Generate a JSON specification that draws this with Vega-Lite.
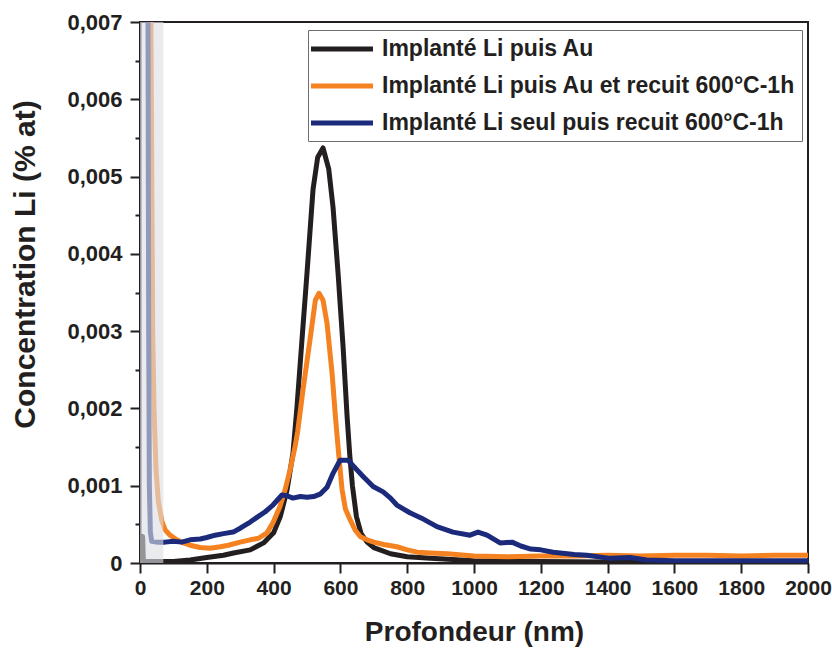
{
  "$schema": "https://vega.github.io/schema/vega-lite/v6.json",
  "autosize": "none",
  "width": 668,
  "height": 541,
  "padding": {"left": 140, "top": 22, "right": 24, "bottom": 85},
  "background": "white",
  "config": {
    "view": {"stroke": "#231f20", "strokeWidth": 2},
    "font": "Liberation Sans",
    "axis": {
      "domainColor": "#231f20", "domainWidth": 2,
      "tickColor": "#231f20", "tickWidth": 2,
      "labelFont": "Liberation Sans", "labelFontWeight": "bold", "labelColor": "#231f20",
      "titleFont": "Liberation Sans", "titleFontWeight": "bold", "titleColor": "#231f20",
      "grid": false, "labelOverlap": false, "labelFlush": false, "zindex": 0
    }
  },
  "data": {"values": [
    {"s": "Implanté Li puis Au", "x": 0, "y": 0.00035},
    {"s": "Implanté Li puis Au", "x": 8, "y": 0.00034},
    {"s": "Implanté Li puis Au", "x": 10, "y": 0.00004},
    {"s": "Implanté Li puis Au", "x": 15, "y": 0.00002},
    {"s": "Implanté Li puis Au", "x": 50, "y": 0.00002},
    {"s": "Implanté Li puis Au", "x": 100, "y": 0.00002},
    {"s": "Implanté Li puis Au", "x": 150, "y": 0.00004},
    {"s": "Implanté Li puis Au", "x": 200, "y": 0.00007},
    {"s": "Implanté Li puis Au", "x": 250, "y": 0.0001},
    {"s": "Implanté Li puis Au", "x": 280, "y": 0.00013},
    {"s": "Implanté Li puis Au", "x": 330, "y": 0.00017},
    {"s": "Implanté Li puis Au", "x": 370, "y": 0.00026},
    {"s": "Implanté Li puis Au", "x": 400, "y": 0.00039},
    {"s": "Implanté Li puis Au", "x": 420, "y": 0.0006},
    {"s": "Implanté Li puis Au", "x": 440, "y": 0.00094},
    {"s": "Implanté Li puis Au", "x": 458, "y": 0.00142},
    {"s": "Implanté Li puis Au", "x": 470, "y": 0.00202},
    {"s": "Implanté Li puis Au", "x": 485, "y": 0.00289},
    {"s": "Implanté Li puis Au", "x": 500, "y": 0.00375},
    {"s": "Implanté Li puis Au", "x": 518, "y": 0.00483},
    {"s": "Implanté Li puis Au", "x": 532, "y": 0.00525},
    {"s": "Implanté Li puis Au", "x": 548, "y": 0.00537},
    {"s": "Implanté Li puis Au", "x": 565, "y": 0.0051},
    {"s": "Implanté Li puis Au", "x": 578, "y": 0.0046},
    {"s": "Implanté Li puis Au", "x": 593, "y": 0.00375},
    {"s": "Implanté Li puis Au", "x": 608, "y": 0.0028},
    {"s": "Implanté Li puis Au", "x": 620, "y": 0.0019},
    {"s": "Implanté Li puis Au", "x": 628, "y": 0.0014},
    {"s": "Implanté Li puis Au", "x": 636, "y": 0.001},
    {"s": "Implanté Li puis Au", "x": 648, "y": 0.0006},
    {"s": "Implanté Li puis Au", "x": 662, "y": 0.00038},
    {"s": "Implanté Li puis Au", "x": 680, "y": 0.00027},
    {"s": "Implanté Li puis Au", "x": 700, "y": 0.0002},
    {"s": "Implanté Li puis Au", "x": 750, "y": 0.00012},
    {"s": "Implanté Li puis Au", "x": 800, "y": 0.00008},
    {"s": "Implanté Li puis Au", "x": 870, "y": 0.00006},
    {"s": "Implanté Li puis Au", "x": 1000, "y": 0.00003},
    {"s": "Implanté Li puis Au", "x": 1200, "y": 0.00002},
    {"s": "Implanté Li puis Au", "x": 1500, "y": 0.00001},
    {"s": "Implanté Li puis Au", "x": 2000, "y": 0.00001},

    {"s": "Implanté Li puis Au et recuit 600°C-1h", "x": 30, "y": 0.009},
    {"s": "Implanté Li puis Au et recuit 600°C-1h", "x": 34, "y": 0.006},
    {"s": "Implanté Li puis Au et recuit 600°C-1h", "x": 38, "y": 0.003},
    {"s": "Implanté Li puis Au et recuit 600°C-1h", "x": 42, "y": 0.002},
    {"s": "Implanté Li puis Au et recuit 600°C-1h", "x": 48, "y": 0.0012},
    {"s": "Implanté Li puis Au et recuit 600°C-1h", "x": 55, "y": 0.0008},
    {"s": "Implanté Li puis Au et recuit 600°C-1h", "x": 65, "y": 0.00055},
    {"s": "Implanté Li puis Au et recuit 600°C-1h", "x": 75, "y": 0.00043},
    {"s": "Implanté Li puis Au et recuit 600°C-1h", "x": 90, "y": 0.00036},
    {"s": "Implanté Li puis Au et recuit 600°C-1h", "x": 110, "y": 0.0003},
    {"s": "Implanté Li puis Au et recuit 600°C-1h", "x": 130, "y": 0.00026},
    {"s": "Implanté Li puis Au et recuit 600°C-1h", "x": 150, "y": 0.00023},
    {"s": "Implanté Li puis Au et recuit 600°C-1h", "x": 180, "y": 0.0002},
    {"s": "Implanté Li puis Au et recuit 600°C-1h", "x": 210, "y": 0.00019},
    {"s": "Implanté Li puis Au et recuit 600°C-1h", "x": 240, "y": 0.00021},
    {"s": "Implanté Li puis Au et recuit 600°C-1h", "x": 265, "y": 0.00023},
    {"s": "Implanté Li puis Au et recuit 600°C-1h", "x": 300, "y": 0.00027},
    {"s": "Implanté Li puis Au et recuit 600°C-1h", "x": 330, "y": 0.0003},
    {"s": "Implanté Li puis Au et recuit 600°C-1h", "x": 355, "y": 0.00032},
    {"s": "Implanté Li puis Au et recuit 600°C-1h", "x": 380, "y": 0.00039},
    {"s": "Implanté Li puis Au et recuit 600°C-1h", "x": 398, "y": 0.00052},
    {"s": "Implanté Li puis Au et recuit 600°C-1h", "x": 419, "y": 0.00073},
    {"s": "Implanté Li puis Au et recuit 600°C-1h", "x": 434, "y": 0.00094},
    {"s": "Implanté Li puis Au et recuit 600°C-1h", "x": 449, "y": 0.0012},
    {"s": "Implanté Li puis Au et recuit 600°C-1h", "x": 464, "y": 0.0015},
    {"s": "Implanté Li puis Au et recuit 600°C-1h", "x": 472, "y": 0.0017},
    {"s": "Implanté Li puis Au et recuit 600°C-1h", "x": 488, "y": 0.00224},
    {"s": "Implanté Li puis Au et recuit 600°C-1h", "x": 509, "y": 0.00289},
    {"s": "Implanté Li puis Au et recuit 600°C-1h", "x": 525, "y": 0.0034},
    {"s": "Implanté Li puis Au et recuit 600°C-1h", "x": 536, "y": 0.00349},
    {"s": "Implanté Li puis Au et recuit 600°C-1h", "x": 548, "y": 0.0034},
    {"s": "Implanté Li puis Au et recuit 600°C-1h", "x": 560, "y": 0.0031},
    {"s": "Implanté Li puis Au et recuit 600°C-1h", "x": 575, "y": 0.00246},
    {"s": "Implanté Li puis Au et recuit 600°C-1h", "x": 585, "y": 0.0019},
    {"s": "Implanté Li puis Au et recuit 600°C-1h", "x": 595, "y": 0.0014},
    {"s": "Implanté Li puis Au et recuit 600°C-1h", "x": 605, "y": 0.00095},
    {"s": "Implanté Li puis Au et recuit 600°C-1h", "x": 615, "y": 0.0007},
    {"s": "Implanté Li puis Au et recuit 600°C-1h", "x": 629, "y": 0.00056},
    {"s": "Implanté Li puis Au et recuit 600°C-1h", "x": 645, "y": 0.00042},
    {"s": "Implanté Li puis Au et recuit 600°C-1h", "x": 660, "y": 0.00034},
    {"s": "Implanté Li puis Au et recuit 600°C-1h", "x": 680, "y": 0.0003},
    {"s": "Implanté Li puis Au et recuit 600°C-1h", "x": 700, "y": 0.00027},
    {"s": "Implanté Li puis Au et recuit 600°C-1h", "x": 730, "y": 0.00024},
    {"s": "Implanté Li puis Au et recuit 600°C-1h", "x": 769, "y": 0.00021},
    {"s": "Implanté Li puis Au et recuit 600°C-1h", "x": 800, "y": 0.00017},
    {"s": "Implanté Li puis Au et recuit 600°C-1h", "x": 830, "y": 0.00014},
    {"s": "Implanté Li puis Au et recuit 600°C-1h", "x": 870, "y": 0.00013},
    {"s": "Implanté Li puis Au et recuit 600°C-1h", "x": 920, "y": 0.00012},
    {"s": "Implanté Li puis Au et recuit 600°C-1h", "x": 1000, "y": 0.00009},
    {"s": "Implanté Li puis Au et recuit 600°C-1h", "x": 1100, "y": 0.00008},
    {"s": "Implanté Li puis Au et recuit 600°C-1h", "x": 1200, "y": 0.00009},
    {"s": "Implanté Li puis Au et recuit 600°C-1h", "x": 1300, "y": 0.00009},
    {"s": "Implanté Li puis Au et recuit 600°C-1h", "x": 1400, "y": 0.0001},
    {"s": "Implanté Li puis Au et recuit 600°C-1h", "x": 1500, "y": 0.00009},
    {"s": "Implanté Li puis Au et recuit 600°C-1h", "x": 1600, "y": 0.0001},
    {"s": "Implanté Li puis Au et recuit 600°C-1h", "x": 1700, "y": 0.0001},
    {"s": "Implanté Li puis Au et recuit 600°C-1h", "x": 1800, "y": 0.00009},
    {"s": "Implanté Li puis Au et recuit 600°C-1h", "x": 1900, "y": 0.0001},
    {"s": "Implanté Li puis Au et recuit 600°C-1h", "x": 2000, "y": 0.0001},

    {"s": "Implanté Li seul puis recuit 600°C-1h", "x": 18, "y": 0.009},
    {"s": "Implanté Li seul puis recuit 600°C-1h", "x": 24, "y": 0.007},
    {"s": "Implanté Li seul puis recuit 600°C-1h", "x": 26, "y": 0.003},
    {"s": "Implanté Li seul puis recuit 600°C-1h", "x": 28, "y": 0.001},
    {"s": "Implanté Li seul puis recuit 600°C-1h", "x": 31, "y": 0.0004},
    {"s": "Implanté Li seul puis recuit 600°C-1h", "x": 35, "y": 0.00028},
    {"s": "Implanté Li seul puis recuit 600°C-1h", "x": 50, "y": 0.00027},
    {"s": "Implanté Li seul puis recuit 600°C-1h", "x": 75, "y": 0.00027},
    {"s": "Implanté Li seul puis recuit 600°C-1h", "x": 100, "y": 0.00028},
    {"s": "Implanté Li seul puis recuit 600°C-1h", "x": 125, "y": 0.00027},
    {"s": "Implanté Li seul puis recuit 600°C-1h", "x": 150, "y": 0.0003},
    {"s": "Implanté Li seul puis recuit 600°C-1h", "x": 180, "y": 0.00031},
    {"s": "Implanté Li seul puis recuit 600°C-1h", "x": 200, "y": 0.00033},
    {"s": "Implanté Li seul puis recuit 600°C-1h", "x": 225, "y": 0.00036},
    {"s": "Implanté Li seul puis recuit 600°C-1h", "x": 250, "y": 0.00038},
    {"s": "Implanté Li seul puis recuit 600°C-1h", "x": 279, "y": 0.0004},
    {"s": "Implanté Li seul puis recuit 600°C-1h", "x": 300, "y": 0.00045},
    {"s": "Implanté Li seul puis recuit 600°C-1h", "x": 330, "y": 0.00053},
    {"s": "Implanté Li seul puis recuit 600°C-1h", "x": 350, "y": 0.00059},
    {"s": "Implanté Li seul puis recuit 600°C-1h", "x": 374, "y": 0.00066},
    {"s": "Implanté Li seul puis recuit 600°C-1h", "x": 398, "y": 0.00075},
    {"s": "Implanté Li seul puis recuit 600°C-1h", "x": 425, "y": 0.00088},
    {"s": "Implanté Li seul puis recuit 600°C-1h", "x": 440, "y": 0.00087},
    {"s": "Implanté Li seul puis recuit 600°C-1h", "x": 458, "y": 0.00084},
    {"s": "Implanté Li seul puis recuit 600°C-1h", "x": 480, "y": 0.00086},
    {"s": "Implanté Li seul puis recuit 600°C-1h", "x": 500, "y": 0.00085},
    {"s": "Implanté Li seul puis recuit 600°C-1h", "x": 520, "y": 0.00086},
    {"s": "Implanté Li seul puis recuit 600°C-1h", "x": 539, "y": 0.00089},
    {"s": "Implanté Li seul puis recuit 600°C-1h", "x": 560, "y": 0.00098},
    {"s": "Implanté Li seul puis recuit 600°C-1h", "x": 578, "y": 0.00116},
    {"s": "Implanté Li seul puis recuit 600°C-1h", "x": 599, "y": 0.00133},
    {"s": "Implanté Li seul puis recuit 600°C-1h", "x": 623, "y": 0.00133},
    {"s": "Implanté Li seul puis recuit 600°C-1h", "x": 644, "y": 0.00123},
    {"s": "Implanté Li seul puis recuit 600°C-1h", "x": 668, "y": 0.00112},
    {"s": "Implanté Li seul puis recuit 600°C-1h", "x": 698, "y": 0.00099},
    {"s": "Implanté Li seul puis recuit 600°C-1h", "x": 728, "y": 0.00092},
    {"s": "Implanté Li seul puis recuit 600°C-1h", "x": 750, "y": 0.00084},
    {"s": "Implanté Li seul puis recuit 600°C-1h", "x": 769, "y": 0.00075},
    {"s": "Implanté Li seul puis recuit 600°C-1h", "x": 808, "y": 0.00065},
    {"s": "Implanté Li seul puis recuit 600°C-1h", "x": 843, "y": 0.00058},
    {"s": "Implanté Li seul puis recuit 600°C-1h", "x": 889, "y": 0.00047},
    {"s": "Implanté Li seul puis recuit 600°C-1h", "x": 937, "y": 0.0004},
    {"s": "Implanté Li seul puis recuit 600°C-1h", "x": 988, "y": 0.00036},
    {"s": "Implanté Li seul puis recuit 600°C-1h", "x": 1012, "y": 0.0004},
    {"s": "Implanté Li seul puis recuit 600°C-1h", "x": 1039, "y": 0.00036},
    {"s": "Implanté Li seul puis recuit 600°C-1h", "x": 1078, "y": 0.00026},
    {"s": "Implanté Li seul puis recuit 600°C-1h", "x": 1114, "y": 0.00027},
    {"s": "Implanté Li seul puis recuit 600°C-1h", "x": 1140, "y": 0.00022},
    {"s": "Implanté Li seul puis recuit 600°C-1h", "x": 1170, "y": 0.00018},
    {"s": "Implanté Li seul puis recuit 600°C-1h", "x": 1200, "y": 0.00017},
    {"s": "Implanté Li seul puis recuit 600°C-1h", "x": 1237, "y": 0.00014},
    {"s": "Implanté Li seul puis recuit 600°C-1h", "x": 1300, "y": 0.00011},
    {"s": "Implanté Li seul puis recuit 600°C-1h", "x": 1338, "y": 0.0001},
    {"s": "Implanté Li seul puis recuit 600°C-1h", "x": 1407, "y": 0.00006},
    {"s": "Implanté Li seul puis recuit 600°C-1h", "x": 1467, "y": 0.00007},
    {"s": "Implanté Li seul puis recuit 600°C-1h", "x": 1517, "y": 0.00004},
    {"s": "Implanté Li seul puis recuit 600°C-1h", "x": 1600, "y": 0.00003},
    {"s": "Implanté Li seul puis recuit 600°C-1h", "x": 1800, "y": 0.00003},
    {"s": "Implanté Li seul puis recuit 600°C-1h", "x": 2000, "y": 0.00003}
  ]},
  "layer": [
    {
      "mark": {"type": "line", "clip": true, "strokeWidth": 5, "strokeJoin": "round", "strokeCap": "round"},
      "encoding": {
        "x": {
          "field": "x", "type": "quantitative",
          "scale": {"domain": [0, 2000], "nice": false},
          "axis": {
            "title": "Profondeur (nm)", "titlePadding": 20, "titleFontSize": 28,
            "labelFontSize": 21,
            "values": [0,100,200,300,400,500,600,700,800,900,1000,1100,1200,1300,1400,1500,1600,1700,1800,1900,2000],
            "format": "d",
            "labelExpr": "datum.value % 200 == 0 ? datum.label : ''",
            "tickSize": {"condition": {"test": "datum.value % 200 == 0", "value": 10}, "value": 5},
            "labelPadding": 4
          }
        },
        "y": {
          "field": "y", "type": "quantitative",
          "scale": {"domain": [0, 0.007], "nice": false, "zero": true},
          "axis": {
            "title": "Concentration Li (% at)", "titleFontSize": 30,
            "titleAngle": 270, "titleX": -115, "titleY": 242, "titleAlign": "center", "titleBaseline": "middle",
            "labelFontSize": 22,
            "values": [0,0.0005,0.001,0.0015,0.002,0.0025,0.003,0.0035,0.004,0.0045,0.005,0.0055,0.006,0.0065,0.007],
            "labelExpr": "round(datum.value*2000) % 2 == 0 ? (datum.value == 0 ? '0' : replace(format(datum.value, '.3f'), '.', ',')) : ''",
            "tickSize": {"condition": {"test": "round(datum.value*2000) % 2 == 0", "value": 10}, "value": 5},
            "labelPadding": 8
          }
        },
        "color": {
          "field": "s", "type": "nominal",
          "scale": {
            "domain": ["Implanté Li puis Au", "Implanté Li puis Au et recuit 600°C-1h", "Implanté Li seul puis recuit 600°C-1h"],
            "range": ["#231f20", "#f58220", "#1b2a7b"]
          },
          "legend": {
            "title": null, "orient": "none", "legendX": 168, "legendY": 8,
            "strokeColor": "#6d6e71", "fillColor": "white", "padding": 6,
            "labelFont": "Liberation Sans", "labelFontWeight": "bold", "labelFontSize": 23, "labelColor": "#231f20",
            "labelLimit": 700,
            "symbolType": "M-3,0H3", "symbolSize": 427, "symbolStrokeWidth": 5,
            "symbolOffset": 15, "labelOffset": 27, "rowPadding": 12
          }
        }
      }
    },
    {
      "data": {"values": [{"x0": 0, "x1": 70}]},
      "mark": {"type": "rect", "fill": "#dcdee4", "opacity": 0.62},
      "encoding": {
        "x": {"field": "x0", "type": "quantitative"},
        "x2": {"field": "x1"}
      }
    }
  ]
}
